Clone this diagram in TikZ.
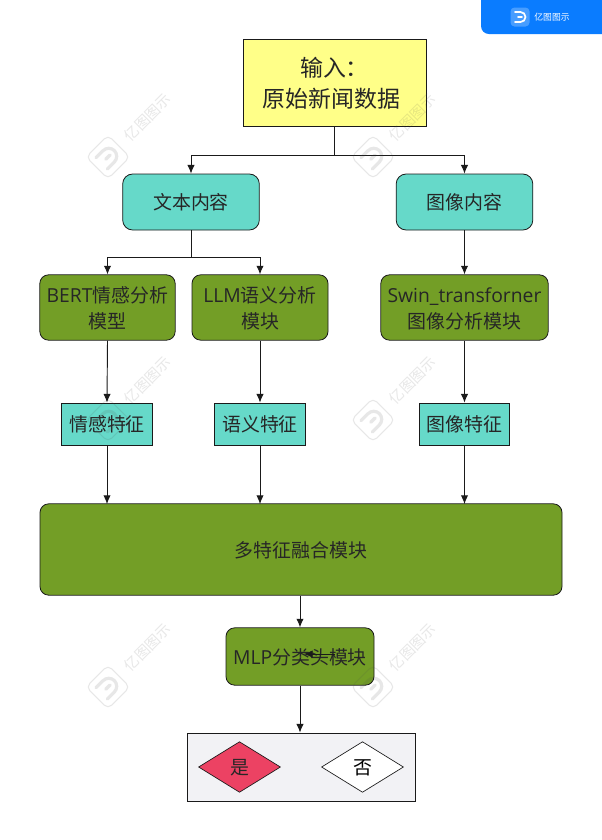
\documentclass[tikz,border=0pt]{standalone}
\usepackage{fontspec}
\setmainfont{Noto Sans CJK SC}
\newfontfamily\lat[Scale=1.02]{Open Sans}
\usetikzlibrary{shapes.geometric,arrows.meta}
\definecolor{teal1}{HTML}{66D9C9}
\definecolor{green1}{HTML}{739E26}
\definecolor{yellow1}{HTML}{FFFF88}
\definecolor{line1}{HTML}{1A1A1A}
\definecolor{badge}{HTML}{0A7CFF}
\definecolor{panel}{HTML}{F2F2F5}
\definecolor{red1}{HTML}{EC4263}
\newcommand{\dn}[1]{\raisebox{-0.3pt}[1em][0.2em]{#1}}
\tikzset{
  x=0.75pt,y=-0.75pt,
  base/.style={draw=line1,line width=0.6pt,align=center,inner sep=0pt,text=black!85},
  inputbox/.style={base,fill=yellow1,minimum width=137.25pt,minimum height=65.25pt,font=\fontsize{17.2pt}{23.5pt}\selectfont},
  tealround/.style={base,fill=teal1,rounded corners=7.5pt,minimum width=102.5pt,minimum height=42pt,font=\fontsize{14.2pt}{20pt}\selectfont},
  greenbox/.style={base,fill=green1,rounded corners=6.5pt,minimum height=49pt,font=\fontsize{14.2pt}{19pt}\selectfont},
  featbox/.style={base,fill=teal1,minimum width=68pt,minimum height=31.5pt,font=\fontsize{14.2pt}{20pt}\selectfont},
  choice/.style={diamond,aspect=1.62,draw=line1,line width=0.5pt,inner sep=0pt,minimum width=61.5pt,minimum height=38pt,font=\fontsize{14.2pt}{20pt}\selectfont},
  arr/.style={draw=line1,line width=0.7pt,-{Latex[length=6.5pt,width=5.5pt]}},
  plain/.style={draw=line1,line width=0.7pt},
}
\newcommand{\wmark}[2]{%
  \begin{scope}[shift={(#1,#2)},rotate=45,opacity=0.13,black!70]
    \draw[line width=0.8pt,rounded corners=4pt] (-15.5,-15.5) rectangle (15.5,15.5);
    \draw[line width=2.4pt,line cap=round] (-9,-8) -- (1,-8) arc[start angle=-90,end angle=90,radius=8] -- (-9,8);
    \draw[line width=2.4pt,line cap=round] (-3,0) -- (3,0);
    \node[rotate=45,font=\fontsize{11pt}{12pt}\selectfont] at (56,0) {亿图图示};
  \end{scope}}
\begin{document}
\begin{tikzpicture}
\useasboundingbox (0,0) rectangle (601,840);
\fill[white] (0,0) rectangle (601,840);
% nodes
\node[inputbox] (input) at (334.5,82.5) {\dn{输入：}\\\dn{原始新闻数据}\hspace*{4.5pt}};
\node[tealround] (text) at (191,202) {\dn{文本内容}};
\node[tealround] (image) at (464.5,202) {\dn{图像内容}};
\node[greenbox,minimum width=101.5pt] (bert) at (107.5,307.5) {\dn{{\lat BERT}情感分析}\\\dn{模型}};
\node[greenbox,minimum width=102pt] (llm) at (260,307.5) {\dn{{\lat LLM}语义分析}\\\dn{模块}};
\node[greenbox,minimum width=125.5pt] (swin) at (464.5,307.5) {\dn{{\lat Swin\_transforner}}\\\dn{图像分析模块}};
\node[featbox] (f1) at (107,424) {\dn{情感特征}};
\node[featbox] (f2) at (260,424) {\dn{语义特征}};
\node[featbox] (f3) at (464.5,424) {\dn{图像特征}};
\node[base,fill=green1,rounded corners=6.5pt,minimum width=391.5pt,minimum height=68.5pt,font=\fontsize{14.2pt}{20pt}\selectfont] (fusion) at (301,549.5) {\dn{多特征融合模块}};
\node[base,fill=green1,rounded corners=6.5pt,minimum width=111pt,minimum height=43pt,font=\fontsize{14.2pt}{20pt}\selectfont] (mlp) at (300,656.5) {\dn{{\lat MLP}分类头模块}};
\node[base,fill=panel,minimum width=171pt,minimum height=51pt] (panelbox) at (301,767) {};
\node[choice,fill=red1,text=black!85] (yes) at (239.5,767) {\dn{是}};
\node[choice,fill=white,text=black] (no) at (362.5,767) {\dn{否}};
% helper coordinates
\coordinate (s1) at (input.south |- 0,155);
\coordinate (s2) at (text.south |- 0,257);
\coordinate (t1) at (107,504);
\coordinate (t2) at (260,504);
\coordinate (t3) at (464.5,504);
\coordinate (la) at (335,654);
\coordinate (lb) at (304,654);
% connectors
\draw[plain] (input.south) -- (s1);
\draw[arr] (s1) -| (text.north);
\draw[arr] (s1) -| (image.north);
\draw[plain] (text.south) -- (s2);
\draw[arr] (s2) -| (bert.north);
\draw[arr] (s2) -| (llm.north);
\draw[arr] (image.south) -- (swin.north);
\draw[arr] (bert.south) -- (f1.north);
\draw[arr] (llm.south) -- (f2.north);
\draw[arr] (swin.south) -- (f3.north);
\draw[arr] (f1.south) -- (t1);
\draw[arr] (f2.south) -- (t2);
\draw[arr] (f3.south) -- (t3);
\draw[arr] (fusion.south -| mlp.north) -- (mlp.north);
\draw[arr] (mlp.south) -- (mlp.south |- panelbox.north);
\draw[arr,line width=0.5pt] (la) -- (lb);
% badge
\fill[badge,rounded corners=6pt] (481,-10) rectangle (611,34);
\begin{scope}[shift={(520,17)}]
  \fill[white!25!badge,rounded corners=3pt] (-9.5,-9.5) rectangle (9.5,9.5);
  \draw[white,line width=1.3pt,line cap=round] (-5,-5) -- (0.5,-5) arc[start angle=-90,end angle=90,radius=5] -- (-5,5);
  \draw[white,line width=1.3pt,line cap=round] (-2,0) -- (2,0);
\end{scope}
\node[text=white,font=\fontsize{6.6pt}{7pt}\selectfont,inner sep=0pt] (brand) at (552,17) {亿图图示};
% watermarks
\wmark{108}{157}
\wmark{373}{157}
\wmark{108}{420}
\wmark{373}{420}
\wmark{108}{687}
\wmark{373}{687}
\end{tikzpicture}
\end{document}
